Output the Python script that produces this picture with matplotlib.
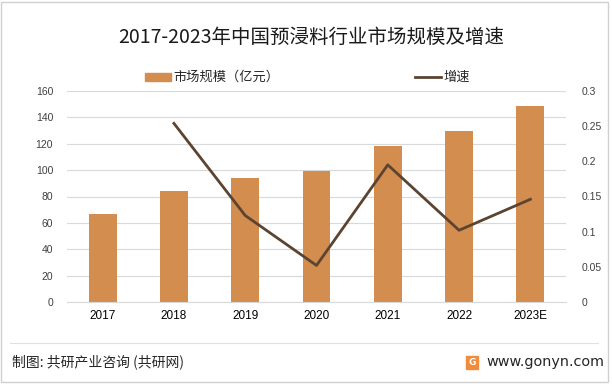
import matplotlib
matplotlib.use('Agg')
import matplotlib.pyplot as plt
from matplotlib.patches import Rectangle
from matplotlib.lines import Line2D
import numpy as np

plt.rcParams['font.family'] = ['Noto Sans CJK SC', 'DejaVu Sans']

years = ['2017', '2018', '2019', '2020', '2021', '2022', '2023E']
market_size = [67, 84, 94, 99, 118, 130, 149]
growth = [None, 0.254, 0.123, 0.052, 0.195, 0.102, 0.146]

bar_color = '#D38D4F'
line_color = '#5C4431'
grid_color = '#D9D9D9'
tick_color = '#404040'

fig = plt.figure(figsize=[6.12, 3.84], dpi=100)
ax = fig.add_axes([67 / 612, 1 - 302 / 384, (566 - 67) / 612, (302 - 91) / 384])
ax2 = ax.twinx()

x = np.arange(len(years))
ax.bar(x, market_size, width=0.39, color=bar_color, zorder=2)
ax.set_xlim(-0.5, len(years) - 0.5)
ax.set_ylim(0, 160)
ax.set_yticks(range(0, 161, 20))
ax.yaxis.grid(True, color=grid_color, linewidth=0.8)
ax.set_axisbelow(True)
ax.set_xticks(x)
ax.set_xticklabels(years, fontsize=8.5, color='black', family='Liberation Sans')
for label in ax.get_yticklabels():
    label.set_fontsize(7.5)
    label.set_color(tick_color)
    label.set_family('Liberation Sans')
ax.tick_params(axis='both', length=0, pad=6)
ax.tick_params(axis='y', pad=10)

gx = [i for i, g in enumerate(growth) if g is not None]
gy = [g for g in growth if g is not None]
ax2.plot(gx, gy, color=line_color, linewidth=2, zorder=3)
ax2.set_ylim(0, 0.3)
ax2.set_yticks([0, 0.05, 0.1, 0.15, 0.2, 0.25, 0.3])
ax2.set_yticklabels(['0', '0.05', '0.1', '0.15', '0.2', '0.25', '0.3'])
for label in ax2.get_yticklabels():
    label.set_fontsize(7.5)
    label.set_color(tick_color)
    label.set_family('Liberation Sans')
ax2.tick_params(axis='y', length=0, pad=11)

for a in (ax, ax2):
    for s in a.spines.values():
        s.set_visible(False)
ax.spines['bottom'].set_visible(True)
ax.spines['bottom'].set_color(grid_color)

fig.text(311 / 612, 1 - 37 / 384, '2017-2023年中国预浸料行业市场规模及增速',
         ha='center', va='center', fontsize=14, color='#1a1a1a')

# legend
fig.patches.append(Rectangle((145 / 612, 1 - 81 / 384), 26 / 612, 8 / 384,
                             transform=fig.transFigure, color=bar_color))
fig.text(173 / 612, 1 - 77 / 384, '市场规模（亿元）', ha='left', va='center', fontsize=9.5, color='#262626')
fig.lines.append(Line2D([415 / 612, 441 / 612], [1 - 77 / 384, 1 - 77 / 384],
                        transform=fig.transFigure, color=line_color, linewidth=2))
fig.text(443 / 612, 1 - 77 / 384, '增速', ha='left', va='center', fontsize=9.5, color='#262626')

# footer
fig.lines.append(Line2D([10 / 612, 598 / 612], [1 - 343 / 384, 1 - 343 / 384],
                        transform=fig.transFigure, color='#E0E0E0', linewidth=0.8))
fig.text(12 / 612, 1 - 362 / 384, '制图: 共研产业咨询 (共研网)', ha='left', va='center', fontsize=10, color='#262626')
fig.patches.append(Rectangle((466 / 612, 1 - 369 / 384), 12 / 612, 13 / 384,
                             transform=fig.transFigure, color='#F08C3C'))
fig.text(472 / 612, 1 - 362.5 / 384, 'G', ha='center', va='center', fontsize=6.5,
         color='white', weight='bold', family='DejaVu Sans')
fig.text(486 / 612, 1 - 362 / 384, 'www.gonyn.com', ha='left', va='center', fontsize=10.4,
         color='#262626', family='DejaVu Sans')

# border
fig.patches.append(Rectangle((1 / 612, 2 / 384), 607 / 612, 380 / 384, transform=fig.transFigure,
                             fill=False, edgecolor='#D0D0D0', linewidth=1))

plt.savefig('out.png', dpi=100)
